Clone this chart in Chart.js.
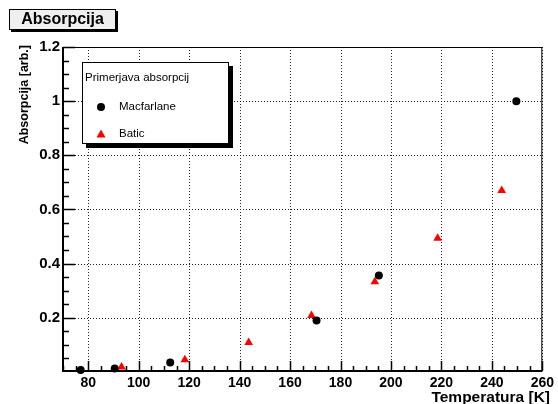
<!DOCTYPE html>
<html>
<head>
<meta charset="utf-8">
<script src="https://cdn.jsdelivr.net/npm/chart.js@4"></script>
<style>
  body { margin: 0; background: #fff; }
  #canvas { display: block; }
</style>
</head>
<body>
<canvas id="canvas" width="558" height="404"></canvas>
<script>
// temperatures [K] and absorption values
var macfarlaneT = [77, 90.5, 112.5, 170.5, 195.2, 249.7];
var macfarlaneA = [0.007, 0.012, 0.034, 0.19, 0.356, 1.0];
var baticT = [93.2, 118.3, 143.6, 168.5, 193.6, 218.5, 243.9];
var baticA = [0.018, 0.045, 0.108, 0.208, 0.333, 0.493, 0.67];

var xTicks = [80, 100, 120, 140, 160, 180, 200, 220, 240, 260];
var yTicks = [0.2, 0.4, 0.6, 0.8, 1, 1.2];

var titleText = "Absorpcija";
var legendTitle = "Primerjava absorpcij";
var xTitle = "Temperatura [K]";
var yTitle = "Absorpcija [arb.]";

function toPoints(xs, ys) {
  return xs.map(function (x, i) {
    return { x: x, y: ys[i] };
  });
}

var FONT = "'Liberation Sans', Arial, Helvetica, sans-serif";

// dotted grid under the markers
var rootGrid = {
  id: "rootGrid",
  beforeDatasetsDraw: function (chart) {
    var ctx = chart.ctx;
    var a = chart.chartArea;
    ctx.save();
    ctx.strokeStyle = "#222";
    ctx.lineWidth = 1;
    ctx.setLineDash([1, 2]);
    ctx.beginPath();
    xTicks.forEach(function (v) {
      var px = Math.round(chart.scales.x.getPixelForValue(v)) + 0.5;
      ctx.moveTo(px, a.top);
      ctx.lineTo(px, a.bottom);
    });
    yTicks.forEach(function (v) {
      var py = Math.round(chart.scales.y.getPixelForValue(v)) + 0.5;
      ctx.moveTo(a.left, py);
      ctx.lineTo(a.right, py);
    });
    ctx.stroke();
    ctx.restore();
  }
};

// ROOT like decorations: frame, inward ticks, title box, legend box, axis titles
var rootStyle = {
  id: "rootStyle",
  afterDraw: function (chart) {
    var ctx = chart.ctx;
    var a = chart.chartArea;
    var xs = chart.scales.x;
    var ys = chart.scales.y;
    ctx.save();

    // frame
    ctx.strokeStyle = "#000";
    ctx.lineWidth = 1;
    ctx.beginPath();
    ctx.moveTo(a.left, a.top + 0.5);
    ctx.lineTo(a.right, a.top + 0.5);
    ctx.moveTo(a.right - 0.5, a.top);
    ctx.lineTo(a.right - 0.5, a.bottom);
    ctx.stroke();
    ctx.lineWidth = 2;
    ctx.beginPath();
    ctx.moveTo(a.left, a.top);
    ctx.lineTo(a.left, a.bottom);
    ctx.lineTo(a.right, a.bottom);
    ctx.stroke();

    // x ticks every 5, major every 20
    ctx.lineWidth = 1.5;
    ctx.beginPath();
    for (var t = 70; t <= 260; t += 5) {
      var px = Math.round(xs.getPixelForValue(t)) + 0.5;
      var len = (t % 20 === 0) ? 10 : 5;
      ctx.moveTo(px, a.bottom);
      ctx.lineTo(px, a.bottom - len);
    }
    // y ticks every 0.05, major every 0.2
    for (var i = 1; i <= 24; i++) {
      var v = i * 0.05;
      var py = Math.round(ys.getPixelForValue(v)) + 0.5;
      var l = (i % 4 === 0) ? 12 : 6;
      ctx.moveTo(a.left, py);
      ctx.lineTo(a.left + l, py);
    }
    ctx.stroke();

    // title box
    ctx.fillStyle = "#000";
    ctx.fillRect(11, 11, 107, 21);
    ctx.fillStyle = "#efefef";
    ctx.fillRect(9, 9, 107, 21);
    ctx.lineWidth = 1;
    ctx.strokeStyle = "#000";
    ctx.strokeRect(9.5, 9.5, 106, 20);
    ctx.fillStyle = "#000";
    ctx.font = "bold 16px " + FONT;
    ctx.textAlign = "center";
    ctx.textBaseline = "middle";
    ctx.fillText(titleText, 62.5, 20);

    // legend box
    ctx.fillStyle = "#000";
    ctx.fillRect(86, 66, 147, 82);
    ctx.fillStyle = "#fff";
    ctx.fillRect(82, 62, 147, 82);
    ctx.strokeRect(82.5, 62.5, 146, 81);
    ctx.fillStyle = "#000";
    ctx.font = "11.5px " + FONT;
    ctx.textAlign = "left";
    ctx.fillText(legendTitle, 85, 78);
    var ds = chart.data.datasets;
    var rows = [107, 134];
    for (var k = 0; k < ds.length; k++) {
      ctx.fillStyle = ds[k].backgroundColor;
      if (ds[k].pointStyle === "circle") {
        ctx.beginPath();
        ctx.arc(101, rows[k], 4, 0, Math.PI * 2);
        ctx.fill();
      } else {
        ctx.beginPath();
        ctx.moveTo(101, rows[k] - 4.5);
        ctx.lineTo(105.5, rows[k] + 3.5);
        ctx.lineTo(96.5, rows[k] + 3.5);
        ctx.closePath();
        ctx.fill();
      }
      ctx.fillStyle = "#000";
      ctx.fillText(ds[k].label, 119, rows[k]);
    }

    // axis titles
    ctx.textAlign = "right";
    ctx.textBaseline = "alphabetic";
    ctx.font = "bold 15.5px " + FONT;
    ctx.fillText(xTitle, 550, 402);
    ctx.font = "bold 12.5px " + FONT;
    ctx.translate(28, a.top - 2);
    ctx.rotate(-Math.PI / 2);
    ctx.fillText(yTitle, 0, 0);

    ctx.restore();
  }
};

var chart = new Chart(document.getElementById("canvas"), {
  type: "scatter",
  data: {
    datasets: [
      {
        label: "Macfarlane",
        data: toPoints(macfarlaneT, macfarlaneA),
        pointStyle: "circle",
        pointRadius: 4,
        backgroundColor: "#000",
        borderColor: "#000",
        borderWidth: 0,
        clip: false
      },
      {
        label: "Batic",
        data: toPoints(baticT, baticA),
        pointStyle: "triangle",
        pointRadius: 5,
        backgroundColor: "#ff0000",
        borderColor: "#ff0000",
        borderWidth: 0,
        clip: false
      }
    ]
  },
  options: {
    responsive: false,
    animation: false,
    layout: { padding: { top: 47, right: 10, left: 0, bottom: 0 } },
    plugins: {
      legend: { display: false },
      title: { display: false },
      tooltip: { enabled: false }
    },
    scales: {
      x: {
        type: "linear",
        min: 70,
        max: 260,
        afterBuildTicks: function (scale) {
          scale.ticks = xTicks.map(function (v) { return { value: v }; });
        },
        afterFit: function (scale) { scale.height = 33; },
        grid: { display: false, drawTicks: false },
        border: { display: false },
        ticks: {
          color: "#000",
          padding: 4,
          maxRotation: 0,
          autoSkip: false,
          font: { family: FONT, size: 14, weight: "bold" }
        }
      },
      y: {
        type: "linear",
        min: 0.003,
        max: 1.2,
        afterBuildTicks: function (scale) {
          scale.ticks = yTicks.map(function (v) { return { value: v }; });
        },
        afterFit: function (scale) { scale.width = 63; },
        grid: { display: false, drawTicks: false },
        border: { display: false },
        ticks: {
          color: "#000",
          padding: 3,
          autoSkip: false,
          font: { family: FONT, size: 15, weight: "bold" },
          callback: function (value) { return String(value); }
        }
      }
    }
  },
  plugins: [rootGrid, rootStyle]
});
</script>
</body>
</html>
